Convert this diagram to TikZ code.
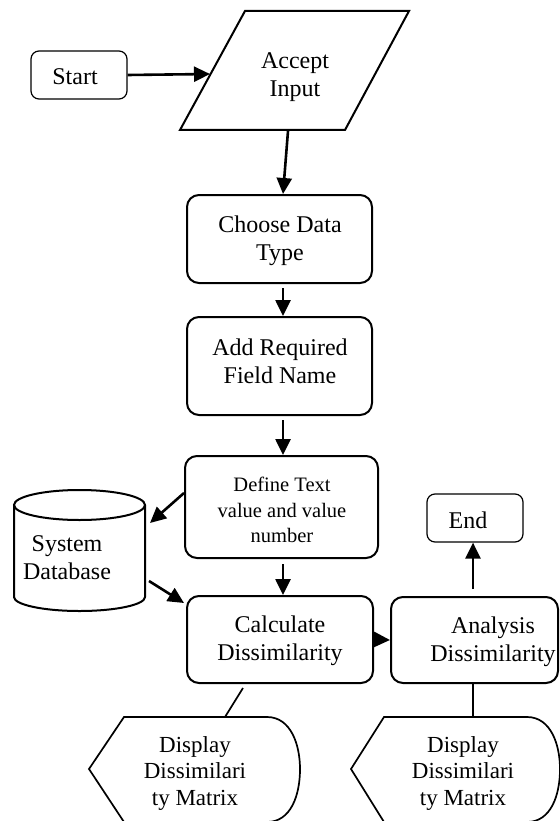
\documentclass[tikz,border=0pt]{standalone}
\usepackage{fontspec}
\setmainfont{Liberation Serif}
\usetikzlibrary{arrows.meta}
\begin{document}
\begin{tikzpicture}[x=1pt,y=-1pt,
  box/.style={draw, rounded corners=12pt, line width=2pt, inner sep=0pt},
  term/.style={draw, rounded corners=8pt, line width=1.2pt, inner sep=0pt},
  txt/.style={align=center, inner sep=0pt, font=\fontsize{24}{28}\selectfont},
  smalltxt/.style={align=center, inner sep=0pt, font=\fontsize{20.5}{25.5}\selectfont},
  disptxt/.style={align=center, inner sep=0pt, font=\fontsize{23}{26.5}\selectfont},
  arr/.style={line width=2.6pt, -{Triangle[length=16pt,width=15pt]}},
  link/.style={line width=1.7pt},
  shp/.style={line width=2pt, line join=miter},
  dshp/.style={line width=1.7pt, line join=miter}]
\useasboundingbox (0,0) rectangle (559,821);

% Start
\node[term, minimum width=96pt, minimum height=48pt] (start) at (79,75) {};
\node[txt] (startT) at (75,77) {Start};

% Accept Input (parallelogram)
\draw[shp] (245,11) -- (409,11) -- (345,130) -- (180,130) -- cycle;
\node[txt] (accept) at (295,77) {Accept\\Input};
\coordinate (acceptL) at (210,74);
\coordinate (acceptB) at (288,131);

% Process boxes
\node[box, minimum width=185pt, minimum height=88pt] (choose) at (279.5,239) {};
\node[txt] (chooseT) at (280,241) {Choose Data\\Type};
\node[box, minimum width=185pt, minimum height=98pt] (add) at (279.5,366) {};
\node[txt] (addT) at (280,361) {Add Required\\Field Name};
\node[box, minimum width=193pt, minimum height=102pt] (define) at (281.5,507) {};
\node[smalltxt] (defineT) at (282,510) {Define Text\\value and value\\number};
\node[box, minimum width=186pt, minimum height=87pt] (calc) at (280,639.5) {};
\node[txt] (calcT) at (280,641) {Calculate\\Dissimilarity};
\node[box, minimum width=167pt, minimum height=86pt] (anal) at (474.5,640) {};
\node[txt] (analT) at (493,642) {Analysis\\Dissimilarity};

% End
\node[term, minimum width=96pt, minimum height=48pt] (end) at (475,518) {};
\node[txt] (endT) at (468,520) {End};

% System Database (cylinder)
\draw[shp] (14,505) -- (14,597) arc[start angle=180, end angle=360, x radius=65.5pt, y radius=14pt] -- (145,505);
\draw[shp] (79.5,505) ellipse [x radius=65.5pt, y radius=15pt];
\node[txt] (db) at (67,558) {System\\Database};
\coordinate (dbIn) at (150,523);
\coordinate (dbOut) at (149,581);

% Display shapes
\draw[dshp] (124,717) -- (267,717) .. controls (291,717) and (300,745) .. (300,769)
  .. controls (300,795) and (291,822) .. (267,822) -- (124,822) -- (89,769) -- cycle;
\node[disptxt] (disp1) at (195,773) {Display\\Dissimilari\\ty Matrix};
\coordinate (disp1top) at (225,717);
\draw[dshp] (384,717) -- (527,717) .. controls (551,717) and (560,745) .. (560,769)
  .. controls (560,795) and (551,822) .. (527,822) -- (384,822) -- (351,769) -- cycle;
\node[disptxt] (disp2) at (463,773) {Display\\Dissimilari\\ty Matrix};
\coordinate (disp2top) at (473,717);

% Connectors
\draw[arr] (start.east) -- (acceptL);
\draw[arr] (acceptB) -- ([xshift=3.5pt]choose.north);
\draw[arr] ([xshift=3.5pt,yshift=-4pt]choose.south) -- ([xshift=3.5pt]add.north);
\draw[arr] ([xshift=3.5pt,yshift=-4pt]add.south) -- ([xshift=1.5pt]define.north);
\draw[arr] ([xshift=1.5pt,yshift=-5pt]define.south) -- ([xshift=3pt]calc.north);
\draw[arr] ([yshift=14pt]define.west) -- (dbIn);
\draw[arr] (dbOut) -- ([xshift=-2pt,yshift=-8pt]calc.north west);
\draw[arr] (calc.east) -- (anal.west);
\draw[arr] ([xshift=-1.5pt,yshift=7pt]anal.north) -- ([xshift=-2pt]end.south);
\draw[link] ([xshift=-37pt,yshift=-4pt]calc.south) -- (disp1top);
\draw[link] ([xshift=-1.5pt]anal.south) -- (disp2top);
\end{tikzpicture}
\end{document}
